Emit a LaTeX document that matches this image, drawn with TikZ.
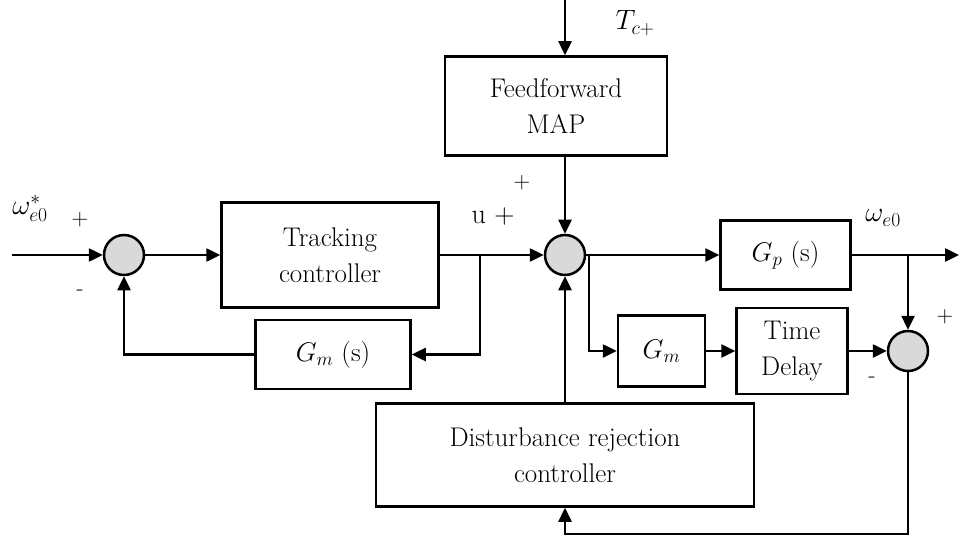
\documentclass[tikz,border=0pt]{standalone}
\usepackage{fix-cm}
\usepackage{fontspec}
\usepackage{tikz}
\usetikzlibrary{shapes,arrows,arrows.meta,positioning,calc}
\definecolor{sumgray}{HTML}{D9D9D9}
\tikzstyle{block} = [rectangle, draw, align=center, line width=2.5pt, inner sep=0pt, font=\fontsize{27}{36}\selectfont]
\tikzstyle{sum} = [circle, draw, fill=sumgray, minimum size=40pt, inner sep=0pt, line width=2.5pt]
\tikzstyle{line} = [draw, -{Triangle[length=14pt,width=13pt]}, line width=2.5pt]
\tikzstyle{sign} = [font=\fontsize{23}{26}\selectfont]
\tikzstyle{lbl} = [font=\fontsize{28}{30}\selectfont]

\begin{document}
\begin{tikzpicture}[x=1pt, y=1pt, node distance=10pt]
    \useasboundingbox (0,0) rectangle (960,-537);
    % Nodes
    \node [sum] (sum1) at (124,-255) {};
    \node [block, minimum width=217pt, minimum height=105pt, right=75pt of sum1] (track) {Tracking\\controller};
    \node [sum, right=104pt of track] (sum2) {};
    \node [block, minimum width=222pt, minimum height=99pt, above=77pt of sum2, xshift=-9pt] (ffmap) {Feedforward\\MAP};
    \node [block, minimum width=130pt, minimum height=69pt, right=133pt of sum2] (gp) {$G_p$ (s)};
    \node [block, minimum width=155pt, minimum height=69pt, below=10pt of track, xshift=3pt] (gms) {$G_m$ (s)};
    \node [block, minimum width=87pt, minimum height=71pt] (gm) at (661.5,-351) {$G_m$};
    \node [block, minimum width=111pt, minimum height=86pt, right=29pt of gm] (delay) {Time\\Delay};
    \node [sum, right=38pt of delay] (sum3) {};
    \node [block, minimum width=378pt, minimum height=103pt, below=126pt of sum2] (dist) {Disturbance rejection\\controller};

    % points
    \coordinate (in) at (12,-255);
    \coordinate (top) at (sum2 |- 0,0);
    \coordinate (out) at (959,-255);
    \coordinate (br1) at (480,-255);
    \coordinate (br2) at (589,-255);
    \coordinate (br3) at (sum3 |- out);
    \coordinate (low) at (dist.south |- 0,-534);

    % labels
    \node [lbl] (wref) at (30,-208) {$\omega^*_{e0}$};
    \node [sign] (plus1) at (80,-220) {+};
    \node [sign] (minus1) at (80,-293) {-};
    \node [lbl] (ulab) at (493,-217) {u +};
    \node [sign] (plus2) at (522,-183) {+};
    \node [lbl] (tlab) at (635,-23) {$T_{c+}$};
    \node [lbl] (wout) at (883,-218) {$\omega_{e0}$};
    \node [sign] (plus3) at (945,-317) {+};
    \node [sign] (minus3) at (872,-380) {-};

    % arrows
    \draw [line] (in) -- (sum1);
    \draw [line] (sum1) -- (track);
    \draw [line] (track) -- (sum2);
    \draw [line] (top) -- (top |- ffmap.north);
    \draw [line] (ffmap.south -| sum2) -- (sum2);
    \draw [line] (sum2) -- (gp);
    \draw [line] (gp) -- (out);
    \draw [line] (br1) |- (gms);
    \draw [line] (gms) -| (sum1);
    \draw [line] (br2) |- (gm);
    \draw [line] (gm) -- (delay);
    \draw [line] (delay) -- (sum3);
    \draw [line] (br3) -- (sum3);
    \draw [line] (sum3) |- (low) -- (dist);
    \draw [line] (dist) -- (sum2);
\end{tikzpicture}
\end{document}
